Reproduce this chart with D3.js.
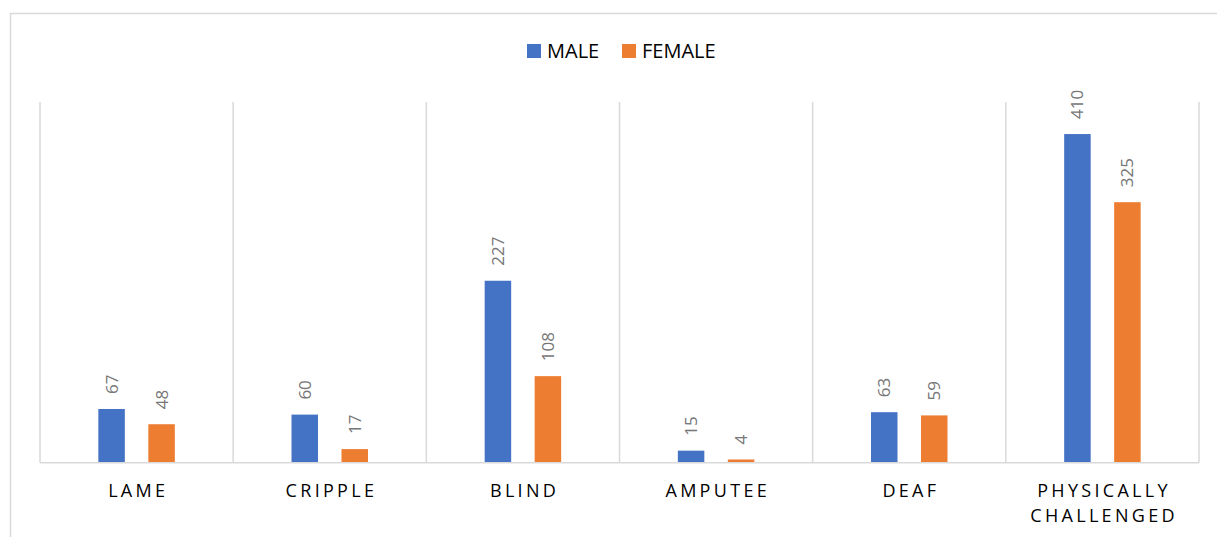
<!DOCTYPE html>
<html>
<head>
<meta charset="utf-8">
<script src="https://cdn.jsdelivr.net/npm/d3@7"></script>
<style>
  body { margin: 0; background: #fff; }
  svg { display: block; font-family: "Open Sans", sans-serif; }
</style>
</head>
<body>
<svg id="chart" width="1217" height="537"></svg>
<script>
// data
var categories = ["LAME", "CRIPPLE", "BLIND", "AMPUTEE", "DEAF", "PHYSICALLY CHALLENGED"];
var male = [67, 60, 227, 15, 63, 410];
var female = [48, 17, 108, 4, 59, 325];
var seriesNames = ["MALE", "FEMALE"];
var seriesColors = ["#4472c4", "#ed7d31"];

var plot = {left: 40, right: 1199, top: 102, bottom: 462.7};
var gridCol = "#d9d9d9";

var svg = d3.select("#chart");

// outer frame (only top and left edges show)
svg.append("path")
    .attr("d", "M10.5,540 V13.5 H1220")
    .attr("fill", "none")
    .attr("stroke", gridCol)
    .attr("stroke-width", 1.5);

var x = d3.scaleBand()
    .domain(categories)
    .range([plot.left, plot.right])
    .padding(0);

var xSub = d3.scaleBand()
    .domain(seriesNames)
    .range([0, x.bandwidth()])
    .paddingInner(0.47)
    .paddingOuter(1.167);

var y = d3.scaleLinear()
    .domain([0, 450])
    .range([plot.bottom, plot.top]);

// vertical category separators
var seps = d3.range(categories.length + 1).map(function(i) { return plot.left + i * x.step(); });
svg.append("g").selectAll("line")
    .data(seps)
    .enter().append("line")
      .attr("x1", function(d) { return d; })
      .attr("x2", function(d) { return d; })
      .attr("y1", plot.top)
      .attr("y2", plot.bottom)
      .attr("stroke", gridCol)
      .attr("stroke-width", 1.5);

// flatten for drawing
var rows = [];
categories.forEach(function(c, i) {
  rows.push({cat: c, s: "MALE", v: male[i], col: seriesColors[0]});
  rows.push({cat: c, s: "FEMALE", v: female[i], col: seriesColors[1]});
});

svg.append("g").selectAll("rect")
    .data(rows)
    .enter().append("rect")
      .attr("x", function(d) { return x(d.cat) + xSub(d.s); })
      .attr("width", xSub.bandwidth())
      .attr("y", function(d) { return y(d.v); })
      .attr("height", function(d) { return y(0) - y(d.v); })
      .attr("fill", function(d) { return d.col; });

// rotated value labels
svg.append("g").selectAll("text")
    .data(rows)
    .enter().append("text")
      .attr("transform", function(d) {
        var cx = x(d.cat) + xSub(d.s) + xSub.bandwidth() / 2;
        return "translate(" + (cx + 6) + "," + (y(d.v) - 15) + ") rotate(-90)";
      })
      .attr("text-anchor", "start")
      .attr("font-size", "17px")
      .attr("fill", "#767676")
      .text(function(d) { return d.v; });

// baseline
svg.append("line")
    .attr("x1", plot.left)
    .attr("x2", plot.right)
    .attr("y1", plot.bottom)
    .attr("y2", plot.bottom)
    .attr("stroke", gridCol)
    .attr("stroke-width", 1.5);

// category labels, wrapped at spaces
var ls = 3.3;
var catLabels = svg.append("g").selectAll("text")
    .data(categories)
    .enter().append("text")
      .attr("x", function(d) { return x(d) + x.bandwidth() / 2 + ls / 2; })
      .attr("y", 497)
      .attr("text-anchor", "middle")
      .attr("font-size", "18px")
      .attr("letter-spacing", ls + "px")
      .attr("fill", "#000");

catLabels.each(function(d) {
  var t = d3.select(this);
  d.split(" ").forEach(function(w, i) {
    t.append("tspan")
      .attr("x", t.attr("x"))
      .attr("dy", i === 0 ? 0 : 25)
      .text(w);
  });
});

// legend
var legendPos = [527, 622];
var legend = svg.append("g").selectAll("g")
    .data(seriesNames)
    .enter().append("g")
      .attr("transform", function(d, i) { return "translate(" + legendPos[i] + ",44)"; });

legend.append("rect")
    .attr("width", 14)
    .attr("height", 14)
    .attr("fill", function(d, i) { return seriesColors[i]; });

legend.append("text")
    .attr("x", 20)
    .attr("y", 14)
    .attr("font-size", "20px")
    .attr("fill", "#000")
    .text(function(d) { return d; });
</script>
</body>
</html>
